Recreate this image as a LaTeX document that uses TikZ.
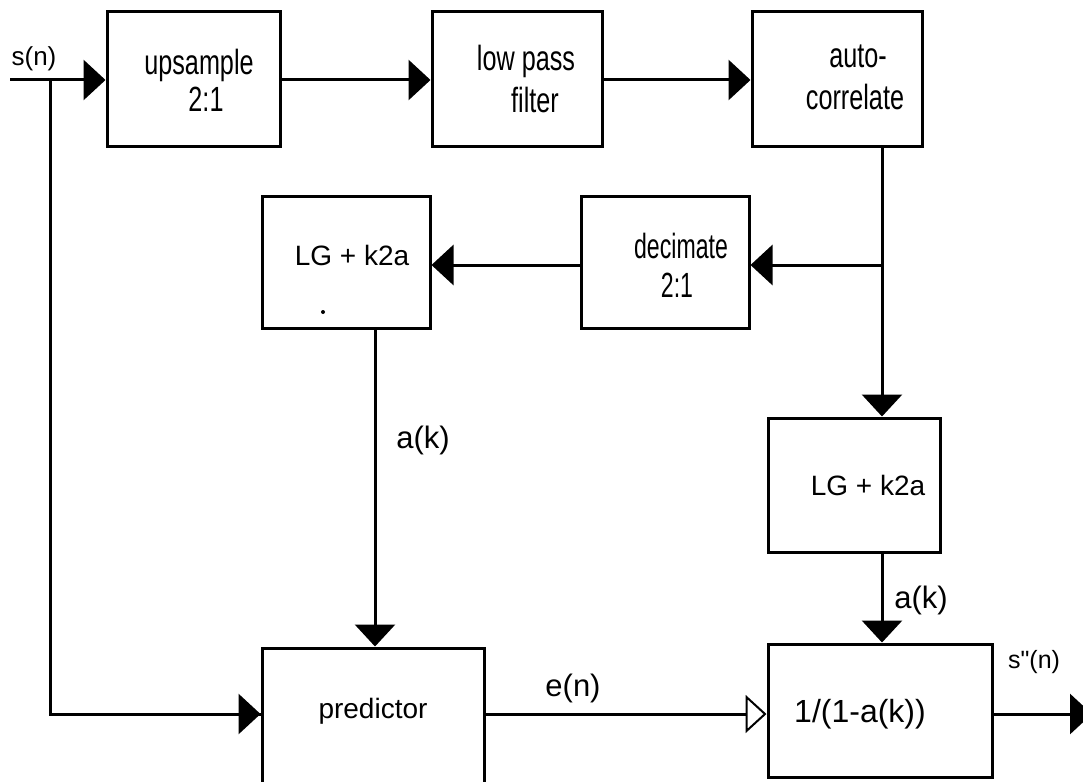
\documentclass[tikz,border=0pt]{standalone}
\usepackage{fontspec}
\setmainfont{Liberation Sans}
\newfontfamily\narrowsf[FakeStretch=0.72]{Liberation Sans}
\newfontfamily\narrowersf[FakeStretch=0.66]{Liberation Sans}
\usetikzlibrary{arrows.meta}

\begin{document}
\begin{tikzpicture}[x=1pt, y=-1pt, line width=3pt,
  blk/.style={draw, rectangle, inner sep=0pt},
  txt/.style={inner sep=0pt, anchor=base},
  toptext/.style={txt, font=\narrowsf\fontsize{35}{43}\selectfont},
  dectext/.style={txt, font=\narrowersf\fontsize{35}{43}\selectfont},
  lbl/.style={font=\fontsize{31}{34}\selectfont, inner sep=0pt},
  arr/.style={-{Triangle[length=22pt,width=40pt]}},
  openarr/.style={-{Triangle[open,length=21pt,width=38pt,line width=2pt]}}]

  \useasboundingbox (0,0) rectangle (1083,781);

  % top row
  \node[blk, minimum width=173pt, minimum height=134pt] (up)   at (193.5,79) {};
  \node[blk, minimum width=170pt, minimum height=134pt] (lp)   at (517,79)   {};
  \node[blk, minimum width=170pt, minimum height=134pt] (auto) at (837,79)   {};
  \node[toptext] (upa) at (199,75)  {upsample};
  \node[toptext] (upb) at (206,112) {2:1};
  \node[toptext] (lpa) at (526,71)  {low pass};
  \node[toptext] (lpb) at (535,113) {filter};
  \node[toptext] (aca) at (858,68)  {auto-};
  \node[toptext] (acb) at (855,110) {correlate};

  % middle row
  \node[blk, minimum width=168pt, minimum height=132pt] (lgl) at (346,262) {};
  \node[txt, font=\fontsize{28}{30}\selectfont] (lgltext) at (352,265) {LG + k2a};
  \fill (323,312) circle (2pt);
  \node[blk, minimum width=168pt, minimum height=132pt] (dec) at (665,262) {};
  \node[dectext] (deca) at (681,258) {decimate};
  \node[dectext] (decb) at (677,297) {2:1};

  \node[blk, minimum width=172pt, minimum height=134pt] (lgr) at (854,485) {};
  \node[txt, font=\fontsize{28}{30}\selectfont] (lgrtext) at (868,495) {LG + k2a};

  % bottom row
  \node[blk, minimum width=222pt, minimum height=142pt] (pred) at (373,719) {};
  \node[txt, font=\fontsize{28}{30}\selectfont] (predtext) at (373,718) {predictor};
  \node[blk, minimum width=224pt, minimum height=133pt] (inv) at (880,710.5) {};
  \node[txt, font=\fontsize{32}{36}\selectfont] (invtext) at (860,722) {1/(1-a(k))};

  % helper points
  \coordinate (in)   at (10,80);
  \coordinate (br)   at (50,80);
  \coordinate (tap)  at (882,265);
  \coordinate (dn)   at (375,0);
  \coordinate (out)  at (1092,714);

  % signal path
  \draw[arr] (in) -- (up.west |- in);
  \draw (br) |- (pred.west |- 0,714) coordinate (pin);
  \draw[arr] (br |- pin) -- (pin);
  \draw[arr] (up.east |- in) -- (lp.west |- in);
  \draw[arr] (lp.east |- in) -- (auto.west |- in);
  \draw[arr] (auto.south -| tap) -- (lgr.north -| tap);
  \draw[arr] (tap) -- (dec.east |- tap);
  \draw[arr] (dec.west |- tap) -- (lgl.east |- tap);
  \draw[arr] (lgl.south -| dn) -- (pred.north -| dn);
  \draw[arr] (lgr.south -| tap) -- (inv.north -| tap);
  \draw[openarr] (pred.east |- out) -- (inv.west |- out);
  \draw[arr] (inv.east |- out) -- (out);

  % labels
  \node[lbl, font=\fontsize{26}{28}\selectfont] (sn)  at (34,59)   {s(n)};
  \node[lbl] (ak1) at (423,440) {a(k)};
  \node[lbl] (ak2) at (921,600) {a(k)};
  \node[lbl] (en)  at (573,688) {e(n)};
  \node[lbl, font=\fontsize{25}{28}\selectfont] (so)  at (1034,662) {s\textquotedbl(n)};
\end{tikzpicture}
\end{document}
